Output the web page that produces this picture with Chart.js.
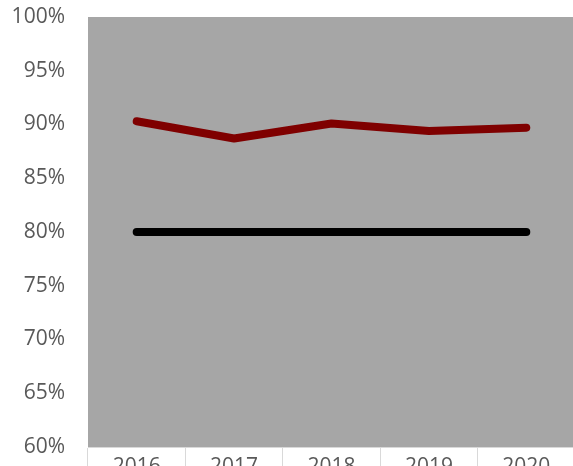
<!DOCTYPE html>
<html>
<head>
<meta charset="utf-8">
<script src="https://cdn.jsdelivr.net/npm/chart.js@4"></script>
<style>
html,body{margin:0;padding:0;background:#fff;overflow:hidden;width:573px;height:466px;}
#wrap{position:absolute;left:0;top:0;width:575px;height:495px;}
</style>
</head>
<body>
<div id="wrap"><canvas id="c" width="575" height="495"></canvas></div>
<script>
const years = ['2016', '2017', '2018', '2019', '2020'];
const actualRate = [0.903, 0.887, 0.901, 0.894, 0.897];
const targetRate = [0.80, 0.80, 0.80, 0.80, 0.80];
const yMin = 0.60, yMax = 1.00, yStep = 0.05;

const plotBg = {
  id: 'plotBg',
  beforeDraw(chart) {
    const {ctx, chartArea: a} = chart;
    ctx.save();
    ctx.fillStyle = '#A6A6A6';
    ctx.fillRect(a.left, a.top, a.right - a.left, a.bottom - a.top);
    ctx.restore();
  }
};

new Chart(document.getElementById('c'), {
  type: 'line',
  data: {
    labels: years,
    datasets: [
      { label: 'Actual', data: actualRate, borderColor: '#7F0000', borderWidth: 8,
        pointRadius: 0, borderCapStyle: 'round', borderJoinStyle: 'round', tension: 0 },
      { label: 'Target', data: targetRate, borderColor: '#000000', borderWidth: 8,
        pointRadius: 0, borderCapStyle: 'round', borderJoinStyle: 'round', tension: 0 }
    ]
  },
  options: {
    responsive: false,
    animation: false,
    devicePixelRatio: 1,
    layout: { padding: { top: 17, right: 0, left: 0, bottom: 0 } },
    plugins: { legend: { display: false }, tooltip: { enabled: false } },
    scales: {
      x: {
        offset: true,
        grid: { offset: true, drawOnChartArea: false, drawTicks: true, tickLength: 40, color: '#D9D9D9', lineWidth: 1 },
        border: { display: true, color: '#D9D9D9' },
        ticks: { color: '#595959', font: { family: 'Open Sans', size: 21 }, padding: -33, maxRotation: 0 },
        afterFit(s) { s.height = 48; }
      },
      y: {
        min: yMin, max: yMax,
        grid: { display: false, drawTicks: true, tickLength: 23 },
        border: { display: false },
        ticks: { stepSize: yStep, color: '#595959', font: { family: 'Open Sans', size: 21 }, padding: 0,
          callback: v => Math.round(v * 100) + '%' },
        afterFit(s) { s.width = 88; }
      }
    }
  },
  plugins: [plotBg]
});
</script>
</body>
</html>
